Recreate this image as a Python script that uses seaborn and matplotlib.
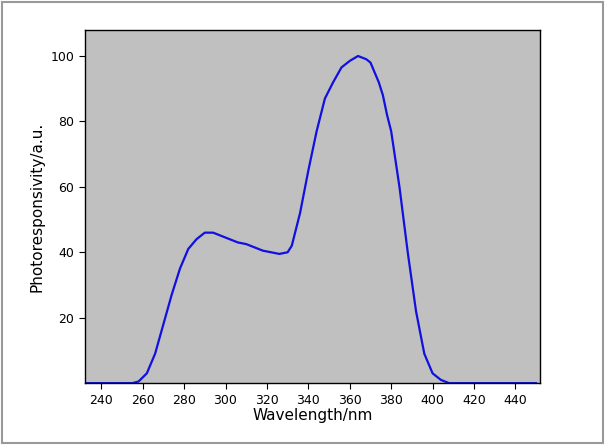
import matplotlib
matplotlib.use("Agg")
import matplotlib.pyplot as plt
import seaborn as sns
import pandas as pd
from matplotlib.patches import Rectangle

wavelength = [230, 255, 258, 262, 266, 270, 274, 278, 282, 286, 290, 294, 298, 302, 306, 310, 314, 318, 322, 326, 330, 332, 336, 340, 344, 348, 352, 356, 360, 364, 368, 370, 374, 376, 378, 380, 384, 388, 392, 396, 400, 404, 408, 450]
response = [0, 0, 0.5, 3, 9, 18, 27, 35, 41, 44, 46, 46, 45, 44, 43, 42.5, 41.5, 40.5, 40, 39.5, 40, 42, 52, 65, 77, 87, 92, 96.5, 98.5, 100, 99, 98, 92, 88, 82, 77, 60, 40, 22, 9, 3, 1, 0, 0]
xticks = list(range(240, 441, 20))
yticks = [20, 40, 60, 80, 100]

df = pd.DataFrame({"w": wavelength, "r": response})
fig = plt.figure(figsize=(6.05, 4.45), dpi=100)
ax = fig.add_axes([0.14, 0.139, 0.753, 0.794])
ax.set_facecolor("#c0c0c0")
sns.lineplot(data=df, x="w", y="r", ax=ax, color="#1010e0", linewidth=1.6)
ax.set_xlim(232, 452)
ax.set_ylim(0, 108)
ax.set_xticks(xticks)
ax.set_yticks(yticks)
ax.tick_params(labelsize=9, direction="out", length=4)
ax.set_xlabel("Wavelength/nm", fontsize=11, labelpad=1)
ax.set_ylabel("Photoresponsivity/a.u.", fontsize=11)
for s in ax.spines.values():
    s.set_linewidth(1)
fig.patches.append(Rectangle((0.003, 0.004), 0.994, 0.992, transform=fig.transFigure,
                             fill=False, edgecolor="#999999", linewidth=1.5))
fig.savefig("out.png", dpi=100)
